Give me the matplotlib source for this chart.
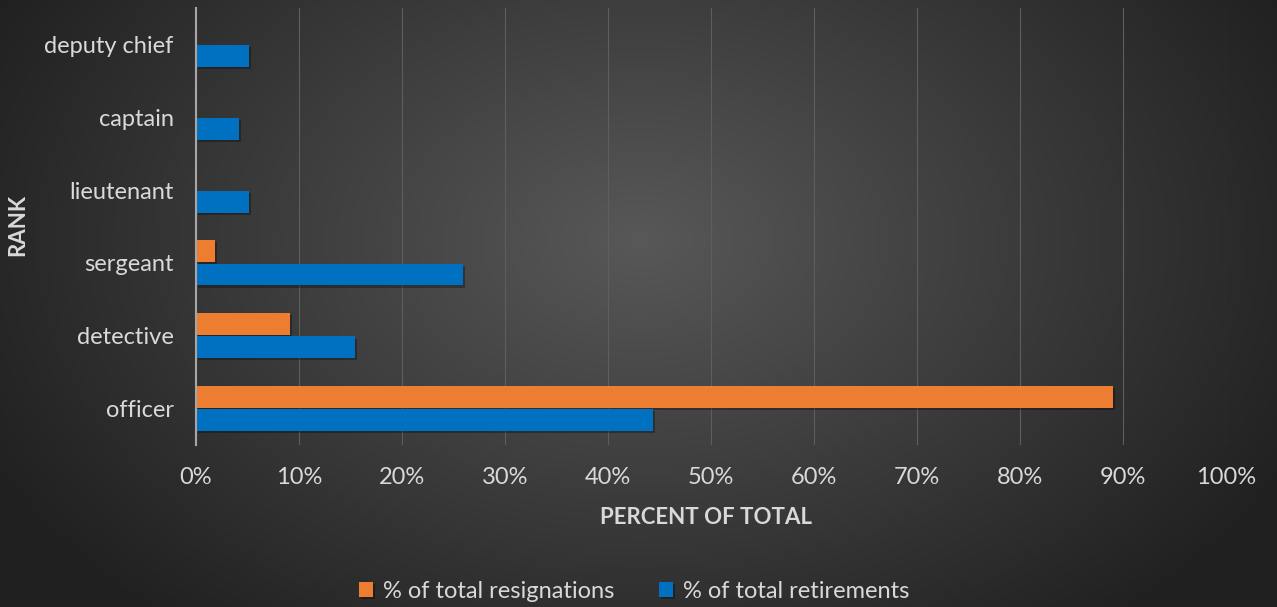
import numpy as np
import matplotlib
matplotlib.use("Agg")
import matplotlib.pyplot as plt
import matplotlib.patheffects as pe
from matplotlib.ticker import FuncFormatter

categories = ["officer", "detective", "sergeant", "lieutenant", "captain", "deputy chief"]
resignations = [89.0, 9.1, 1.8, 0.0, 0.0, 0.0]
retirements = [44.4, 15.4, 25.9, 5.1, 4.2, 5.1]
x_ticks = [0, 10, 20, 30, 40, 50, 60, 70, 80, 90, 100]

plt.rcParams['font.family'] = ['Lato', 'DejaVu Sans']
txt = '#d9d9d9'

fig = plt.figure(figsize=(12.77, 6.07), dpi=100)

# radial gradient background
bg = fig.add_axes([0, 0, 1, 1], zorder=-10)
yy, xx = np.mgrid[0:607, 0:1277]
cx, cy = 640, 240
r = np.sqrt(((xx - cx) / 1277 * 1.3) ** 2 + ((yy - cy) / 607 * 0.9) ** 2)
r = np.clip(r / 0.75, 0, 1)
inner = np.array([0x58, 0x58, 0x58]) / 255
outer = np.array([0x20, 0x20, 0x20]) / 255
img = inner[None, None, :] * (1 - r[..., None]) + outer[None, None, :] * r[..., None]
bg.imshow(img, aspect='auto', extent=[0, 1, 0, 1])
bg.axis('off')

ax = fig.add_axes([196 / 1277, 1 - 445 / 607, (1226 - 196) / 1277, (445 - 8) / 607])
ax.set_facecolor('none')

y = np.arange(len(categories))
h = 0.3
shadow = [pe.SimplePatchShadow(offset=(1.5, -1.5), shadow_rgbFace='black', alpha=0.3), pe.Normal()]
b1 = ax.barh(y + h / 2 + 0.01, resignations, height=h, color='#ed7d31', label='% of total resignations', zorder=3)
b2 = ax.barh(y - h / 2 - 0.01, retirements, height=h, color='#0070c0', label='% of total retirements', zorder=3)
for b in list(b1) + list(b2):
    b.set_path_effects(shadow)

ax.set_xlim(0, 100)
ax.set_ylim(-0.5, len(categories) - 0.5)
ax.set_xticks(x_ticks)
ax.xaxis.set_major_formatter(FuncFormatter(lambda v, p: f"{int(v)}%"))
ax.set_yticks(y)
ax.set_yticklabels(categories)
ax.tick_params(axis='both', length=0, colors=txt, labelsize=17)
ax.tick_params(axis='x', pad=16)
ax.tick_params(axis='y', pad=16)
ax.grid(axis='x', color='#5e5e5e', linewidth=0.8, zorder=0)
for s in ['top', 'right', 'bottom']:
    ax.spines[s].set_visible(False)
ax.spines['left'].set_color('#a6a6a6')
ax.spines['left'].set_linewidth(1.5)
ax.spines['left'].set_zorder(4)

fig.text(706 / 1277, 1 - 518 / 607, 'PERCENT OF TOTAL', color=txt, fontsize=16,
         fontweight='bold', ha='center', va='center')
fig.text(18 / 1277, 1 - 225 / 607, 'RANK', color=txt, fontsize=16,
         fontweight='bold', ha='center', va='center', rotation=90)

leg = fig.legend(handles=[b1, b2], loc='center', bbox_to_anchor=(634 / 1277, 1 - 591 / 607),
                 ncol=2, frameon=False, fontsize=17, labelcolor=txt,
                 handlelength=0.6, handleheight=0.6, handletextpad=0.4, columnspacing=1.9)

fig.savefig('out.png', dpi=100)
